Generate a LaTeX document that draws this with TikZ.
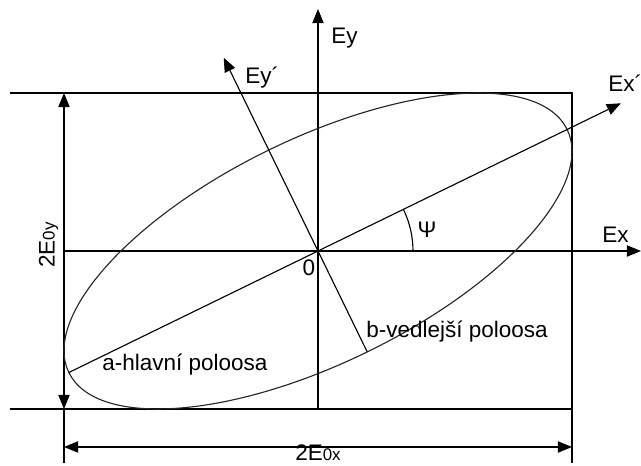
\documentclass[tikz,border=0pt]{standalone}
\usepackage{fontspec}
\setmainfont{Liberation Sans}
\usetikzlibrary{arrows.meta,calc}
\tikzset{
  axisline/.style={line width=0.8pt, -{Triangle[length=10pt,width=8pt]}},
  dimline/.style={line width=0.8pt,
    {Triangle[length=10pt,width=8pt]}-{Triangle[length=10pt,width=8pt]}},
  frameline/.style={line width=0.8pt},
  curveline/.style={line width=0.8pt, draw=black!85},
  lbl/.style={font=\fontsize{16}{19}\selectfont, inner sep=0pt},
  smalllbl/.style={font=\fontsize{12}{12}\selectfont}
}

\begin{document}
\begin{tikzpicture}[x=0.025cm, y=0.025cm]
  \useasboundingbox (-318,-215) rectangle (323,251);
  % frame and reference points
  \coordinate (O) at (0,0);
  \coordinate (tl) at (-254,158);
  \coordinate (tr) at (254,158);
  \coordinate (bl) at (-254,-158);
  \coordinate (br) at (254,-158);
  \coordinate (tlfar) at (-308,158);
  \coordinate (blfar) at (-308,-158);
  \coordinate (lfoot) at (-254,-212);
  \coordinate (rfoot) at (254,-212);
  \coordinate (ldim) at (-254,-196);
  \coordinate (rdim) at (254,-196);
  \draw[frameline] (tlfar) -- (tr) -- (rfoot);
  \draw[frameline] (blfar) -- (br);
  \draw[frameline] (bl) -- (lfoot);
  \draw[dimline] (bl) -- (tl);
  \draw[dimline] (ldim) -- (rdim);
  % axes
  \coordinate (exstart) at (-254,0);
  \coordinate (extip) at (323,0);
  \coordinate (eytip) at (0,242);
  \coordinate (eystart) at (0,-158);
  \draw[axisline] (exstart) -- (extip);
  \draw[axisline] (eystart) -- (eytip);
  % ellipse and its rotated axes
  \draw[curveline, rotate=26] (O) ellipse [x radius=277.2, y radius=112.3];
  \coordinate (aend) at (206:277.2);
  \coordinate (exptip) at (26:337);
  \coordinate (bend) at (296:112.3);
  \coordinate (eyptip) at (116:215);
  \draw[axisline] (aend) -- (exptip);
  \draw[axisline] (bend) -- (eyptip);
  \draw[frameline] (95,0) arc[start angle=0, end angle=26, radius=95];
  % labels
  \node[lbl, anchor=west] (ey) at (13,213) {Ey};
  \node[lbl, anchor=west] (eyp) at (-73,173) {Ey´};
  \node[lbl, anchor=west] (exp) at (290,168) {Ex´};
  \node[lbl, anchor=west] (ex) at (284,16) {Ex};
  \node[lbl] (psi) at (109,21) {Ψ};
  \node[lbl] (zero) at (-9,-17) {0};
  \node[lbl] (major) at (-133,-114) {a-hlavní poloosa};
  \node[lbl] (minor) at (139,-81) {b-vedlejší poloosa};
  \node[lbl, rotate=90] (eoy) at (-269.5,6) {2E{\fontsize{12}{12}\selectfont 0y}};
  \node[lbl, anchor=base] (eox) at (0,-210) {2E{\fontsize{12}{12}\selectfont 0x}};
\end{tikzpicture}
\end{document}
